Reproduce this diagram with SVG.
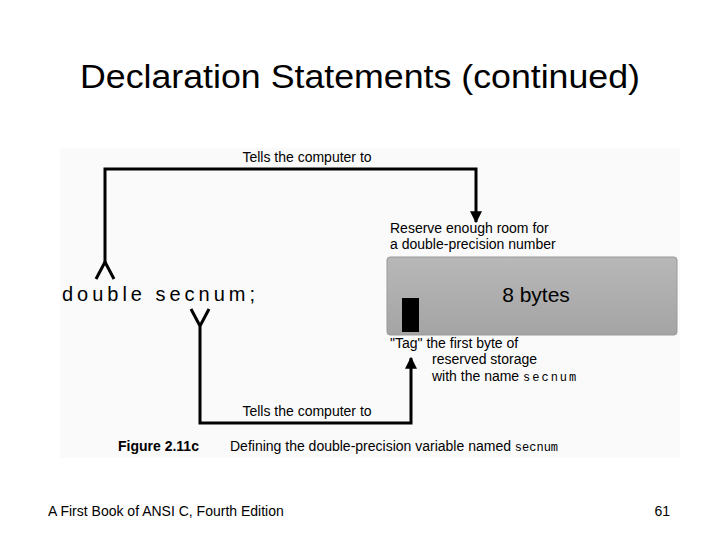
<svg xmlns="http://www.w3.org/2000/svg" width="720" height="540" viewBox="0 0 720 540">
<defs>
<marker id="ah" viewBox="0 0 10 10" refX="9" refY="5" markerWidth="4" markerHeight="5" orient="auto"><path d="M0,0L10,5L0,10z" fill="#000"/></marker>
<linearGradient id="g" x1="0" y1="0" x2="0" y2="1"><stop offset="0" stop-color="#b8b8b8"/><stop offset="1" stop-color="#a4a4a4"/></linearGradient>
</defs>
<style>
text{font-family:"Liberation Sans",Arial,sans-serif;fill:#000}
.s{font-size:14px}
.c{fill:none;stroke:#000;stroke-width:3}
</style>
<rect width="720" height="540" fill="#fff"/>
<rect x="60" y="148" width="620" height="310" fill="#fafafa"/>
<text x="360" y="88" font-size="34" text-anchor="middle" textLength="560" lengthAdjust="spacingAndGlyphs">Declaration Statements (continued)</text>
<g id="connectors">
<path class="c" d="M105,265V169H476V222" marker-end="url(#ah)"/>
<path class="c" d="M96,279L105,262L114,279"/>
<path class="c" d="M191,309L200,326L209,309M200,326V423H411V358" marker-end="url(#ah)"/>
</g>
<g id="code"><text x="62" y="301" font-size="20" font-family="Liberation Mono,monospace" textLength="193">double secnum;</text></g>
<g id="label-top"><text x="307" y="162" class="s" text-anchor="middle">Tells the computer to</text></g>
<g id="label-reserve"><text x="390" y="233" class="s">Reserve enough room for</text><text x="390" y="249" class="s">a double-precision number</text></g>
<g id="box">
<rect x="387" y="257" width="290" height="78" rx="3" fill="url(#g)" stroke="#999"/>
<rect x="402" y="298" width="17" height="34" fill="#000"/>
<text x="536" y="302" font-size="21" text-anchor="middle">8 bytes</text>
</g>
<g id="label-tag"><text x="390" y="348" class="s">"Tag" the first byte of</text><text x="432" y="364" class="s">reserved storage</text><text x="432" y="381" class="s">with the name <tspan font-family="Liberation Mono" font-size="12" letter-spacing="2">secnum</tspan></text></g>
<g id="label-bottom"><text x="307" y="416" class="s" text-anchor="middle">Tells the computer to</text></g>
<text x="118" y="451" font-size="14" font-weight="bold" fill="#333">Figure 2.11c</text>
<text x="230" y="451" font-size="14" fill="#444">Defining the double-precision variable named <tspan font-family="Liberation Mono" font-size="12">secnum</tspan></text>
<text x="48" y="516" font-size="14">A First Book of ANSI C, Fourth Edition</text>
<text x="670" y="516" font-size="14" text-anchor="end">61</text>
</svg>
